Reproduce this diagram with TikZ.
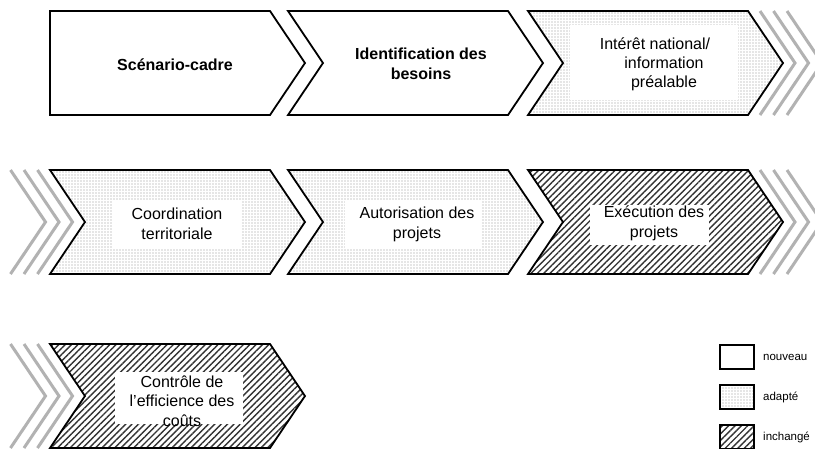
\documentclass[tikz,border=0pt]{standalone}
\usepackage{fontspec}
\setmainfont{Liberation Sans}
\usetikzlibrary{patterns.meta}
\tikzset{
  chev/.style={draw=black, line width=1.8pt, line join=miter},
  newfill/.style={fill=white},
  adapt/.style={pattern={Dots[distance=3pt,radius=0.6pt]}, pattern color=gray!85},
  unch/.style={pattern={Lines[angle=45,distance=4.5pt,line width=1.4pt]}, pattern color=black!80},
  txt/.style={font=\fontsize{16}{20}\selectfont, align=center, inner sep=0pt},
  btxt/.style={font=\fontsize{16}{20}\selectfont\bfseries, align=center, inner sep=0pt},
  whitebox/.style={fill=white, draw=none},
  grayline/.style={draw=gray!60, line width=3pt},
  leglabel/.style={font=\fontsize{11.5}{13}\selectfont, anchor=west, inner sep=0pt},
  legbox/.style={draw=black, line width=2pt}
}
\begin{document}
\begin{tikzpicture}[x=1pt,y=-1pt]
\useasboundingbox (0,0) rectangle (815,448);
\clip (0,0) rectangle (815,448);
\fill[white] (0,0) rectangle (815,448);

% ---------- Row 1 ----------
\draw[chev, newfill] (50,11) -- ++(220,0) -- ++(35,52) -- ++(-35,52) -- ++(-220,0) -- cycle;
\draw[chev, newfill] (288,11) -- ++(220,0) -- ++(35,52) -- ++(-35,52) -- ++(-220,0) -- ++(35,-52) -- cycle;
\draw[chev, adapt] (528,11) -- ++(220,0) -- ++(35,52) -- ++(-35,52) -- ++(-220,0) -- ++(35,-52) -- cycle;
\fill[whitebox] (570,25) rectangle (738,100);
\node[btxt] (scen) at (175,65) {Scénario-cadre};
\node[btxt] (ident) at (421,64) {Identification des\\besoins};
\node[txt, font=\fontsize{16}{19}\selectfont] (inter) at (664,64) {Intérêt national/\hspace*{18pt}\\information\\préalable};
\foreach \gx in {760,773.5,787}
  \draw[grayline] (\gx,11) -- ++(35,52) -- ++(-35,52);

% ---------- Row 2 ----------
\foreach \gx in {10.5,24,37.5}
  \draw[grayline] (\gx,170) -- ++(35,52) -- ++(-35,52);
\draw[chev, adapt] (50,170) -- ++(220,0) -- ++(35,52) -- ++(-35,52) -- ++(-220,0) -- ++(35,-52) -- cycle;
\draw[chev, adapt] (288,170) -- ++(220,0) -- ++(35,52) -- ++(-35,52) -- ++(-220,0) -- ++(35,-52) -- cycle;
\draw[chev, unch] (528,170) -- ++(220,0) -- ++(35,52) -- ++(-35,52) -- ++(-220,0) -- ++(35,-52) -- cycle;
\fill[whitebox] (113,201) rectangle (242,249);
\fill[whitebox] (345,201) rectangle (481,248);
\fill[whitebox] (590,205) rectangle (709,245);
\node[txt] (coord) at (177,224) {Coordination\\territoriale};
\node[txt] (autor) at (417,224) {Autorisation des\\projets};
\node[txt] (exec) at (654,223) {Exécution des\\projets};
\foreach \gx in {760,773.5,787}
  \draw[grayline] (\gx,170) -- ++(35,52) -- ++(-35,52);

% ---------- Row 3 ----------
\foreach \gx in {10.5,24,37.5}
  \draw[grayline] (\gx,344) -- ++(35,52) -- ++(-35,52);
\draw[chev, unch] (50,344) -- ++(220,0) -- ++(35,52) -- ++(-35,52) -- ++(-220,0) -- ++(35,-52) -- cycle;
\fill[whitebox] (115,372) rectangle (243,424);
\node[txt, font=\fontsize{16}{19.5}\selectfont] (ctrl) at (182,401) {Contrôle de\\l’efficience des\\coûts};

% ---------- Legend ----------
\draw[legbox, fill=white] (720,345) rectangle (754,369);
\draw[legbox, adapt] (720,385) rectangle (754,409);
\draw[legbox, unch] (720,425) rectangle (754,449);
\node[leglabel] (lnew) at (763,357) {nouveau};
\node[leglabel] (ladapt) at (763,397) {adapté};
\node[leglabel] (lunch) at (763,437) {inchangé};
\end{tikzpicture}
\end{document}
